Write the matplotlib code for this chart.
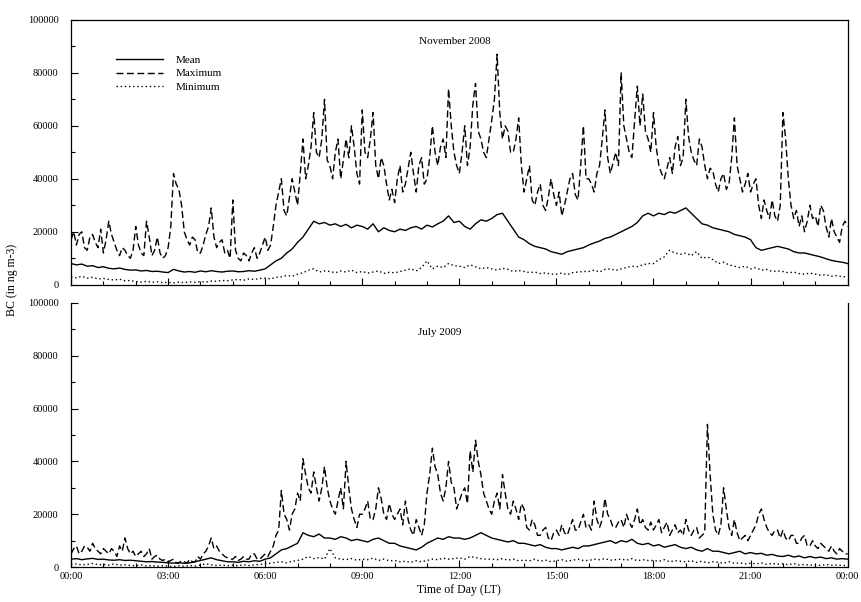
import numpy as np
import matplotlib
matplotlib.use("Agg")
import matplotlib.pyplot as plt
from matplotlib.ticker import MultipleLocator, FixedLocator

plt.rcParams['font.family'] = ['Liberation Serif', 'DejaVu Serif']

# maximum: 5-minute values, 00:00 .. 24:00 (289 points), BC in ng m-3
nov_max = [17000, 20000, 15000, 19000, 20000, 14000, 13000, 18000, 19000, 16000, 14000, 21000,
           12000, 17000, 24000, 19000, 16000, 13000, 11000, 14000, 13000, 11000, 10000, 13000,
           22000, 15000, 12000, 11000, 24000, 18000, 11000, 13000, 18000, 12000, 10000, 11000,
           14000, 22000, 42000, 38000, 36000, 30000, 20000, 17000, 15000, 18000, 17000, 12000,
           12000, 15000, 19000, 22000, 29000, 18000, 14000, 16000, 17000, 12000, 13000, 10000,
           32000, 13000, 10000, 9000, 12000, 11000, 9000, 12000, 14000, 10000, 12000, 15000,
           18000, 13000, 15000, 22000, 30000, 35000, 40000, 28000, 26000, 33000, 40000, 35000,
           30000, 42000, 55000, 40000, 45000, 52000, 65000, 50000, 48000, 55000, 70000, 47000,
           45000, 40000, 50000, 55000, 40000, 47000, 55000, 48000, 60000, 52000, 42000, 38000,
           66000, 50000, 48000, 55000, 65000, 45000, 40000, 48000, 45000, 38000, 32000, 36000,
           31000, 40000, 45000, 35000, 38000, 44000, 50000, 42000, 35000, 45000, 48000, 38000,
           40000, 48000, 60000, 50000, 45000, 52000, 55000, 48000, 74000, 60000, 50000, 45000,
           42000, 50000, 60000, 45000, 52000, 68000, 76000, 58000, 55000, 50000, 48000, 55000,
           62000, 70000, 87000, 65000, 55000, 60000, 58000, 50000, 50000, 55000, 63000, 45000,
           35000, 40000, 45000, 32000, 30000, 35000, 38000, 30000, 28000, 33000, 40000, 34000,
           30000, 35000, 26000, 30000, 35000, 40000, 42000, 34000, 32000, 45000, 60000, 40000,
           40000, 38000, 35000, 42000, 45000, 55000, 66000, 48000, 42000, 46000, 50000, 45000,
           80000, 60000, 55000, 50000, 48000, 62000, 75000, 60000, 72000, 58000, 55000, 50000,
           65000, 52000, 45000, 42000, 40000, 44000, 48000, 42000, 52000, 56000, 45000, 48000,
           70000, 56000, 50000, 47000, 45000, 55000, 52000, 45000, 40000, 44000, 43000, 38000,
           35000, 40000, 42000, 36000, 38000, 48000, 63000, 45000, 40000, 35000, 38000, 42000,
           35000, 38000, 40000, 30000, 25000, 32000, 28000, 25000, 32000, 26000, 24000, 30000,
           65000, 55000, 40000, 30000, 25000, 28000, 22000, 26000, 20000, 24000, 30000, 25000,
           26000, 22000, 30000, 28000, 22000, 18000, 25000, 20000, 18000, 16000, 22000, 24000,
           22000]

jul_max = [5000, 7000, 8000, 5000, 6000, 8000, 7500, 6000, 9000, 7000, 6000, 5000,
           7000, 6000, 5000, 7000, 6000, 4000, 8000, 6000, 11000, 7000, 5000, 6000,
           4000, 5000, 6000, 4000, 5000, 7000, 3000, 4000, 4500, 3000, 2500, 3000,
           2000, 2500, 3000, 1500, 1500, 2500, 2000, 1500, 3000, 2000, 2000, 4000,
           3000, 5000, 6000, 8000, 11000, 7000, 8000, 6000, 5000, 4000, 3500, 3000,
           3000, 4000, 2500, 3000, 4000, 3000, 3000, 5000, 5000, 3000, 3000, 4000,
           5000, 4000, 6000, 8000, 12000, 14000, 29000, 20000, 18000, 14000, 20000, 22000,
           28000, 25000, 41000, 35000, 30000, 28000, 36000, 30000, 25000, 30000, 38000, 30000,
           25000, 22000, 20000, 25000, 30000, 22000, 40000, 30000, 22000, 18000, 15000, 20000,
           20000, 22000, 25000, 18000, 18000, 22000, 30000, 26000, 20000, 18000, 24000, 20000,
           18000, 20000, 22000, 16000, 25000, 18000, 14000, 12000, 18000, 15000, 12000, 16000,
           28000, 35000, 45000, 38000, 35000, 28000, 25000, 30000, 40000, 32000, 30000, 22000,
           25000, 28000, 30000, 24000, 44000, 36000, 48000, 40000, 35000, 28000, 25000, 22000,
           20000, 25000, 28000, 22000, 35000, 28000, 22000, 20000, 25000, 22000, 18000, 24000,
           22000, 15000, 14000, 18000, 16000, 12000, 12000, 14000, 15000, 11000, 10000, 13000,
           14000, 12000, 16000, 13000, 12000, 15000, 18000, 14000, 14000, 17000, 20000, 15000,
           16000, 14000, 25000, 18000, 15000, 18000, 26000, 20000, 18000, 15000, 15000, 17000,
           18000, 15000, 20000, 17000, 15000, 18000, 22000, 16000, 18000, 15000, 14000, 17000,
           14000, 16000, 18000, 13000, 15000, 17000, 12000, 14000, 16000, 13000, 14000, 12000,
           18000, 14000, 12000, 14000, 15000, 11000, 12000, 13000, 54000, 35000, 20000, 14000,
           12000, 16000, 30000, 22000, 15000, 12000, 18000, 13000, 10000, 11000, 12000, 10000,
           12000, 14000, 16000, 20000, 22000, 18000, 15000, 13000, 12000, 14000, 14000, 11000,
           14000, 11000, 10000, 12000, 12000, 9000, 9000, 11000, 12000, 8000, 8000, 10000,
           8000, 7000, 9000, 8000, 7000, 6000, 8000, 6000, 5000, 7000, 6000, 5000,
           5000]

# mean and minimum: 10-minute values, 00:00 .. 24:00 (145 points)
nov_mean = [8000, 7500, 7800, 7000, 7200, 6500,
            6800, 6200, 6000, 6300, 5800, 5500,
            5600, 5200, 5400, 5000, 5100, 4800,
            4600, 5800, 5200, 4800, 5000, 4700,
            5200, 4900, 5300, 5000, 4800, 5100,
            5200, 4900, 5000, 5300, 5100, 5500,
            6000, 7500, 9000, 10000, 12000, 13500,
            16000, 18000, 21000, 24000, 23000, 23500,
            22500, 23000, 22000, 22800, 21500, 22500,
            22000, 21000, 23000, 20000, 21500, 20500,
            20000, 21000, 20500, 21500, 22000, 21000,
            22500, 21800, 23000, 24000, 26000, 23500,
            24000, 22000, 21000, 23000, 24500, 24000,
            25000, 26500, 27000, 24000, 21000, 18000,
            17000, 15500, 14500, 14000, 13500, 12500,
            12000, 11500, 12500, 13000, 13500, 14000,
            15000, 15800, 16500, 17500, 18000, 19000,
            20000, 21000, 22000, 23500, 26000, 27000,
            26000, 27000, 26500, 27500, 27000, 28000,
            29000, 27000, 25000, 23000, 22500, 21500,
            21000, 20500, 20000, 19000, 18500, 18000,
            17000, 14000, 13000, 13500, 14000, 14500,
            14000, 13500, 12500, 12000, 12000, 11500,
            11000, 10500, 9800, 9200, 8800, 8500,
            8000]

nov_min = [3000, 2600, 3200, 2500, 2800, 2200,
           2400, 2000, 1800, 2100, 1500, 1600,
           1200, 1000, 1300, 900, 1100, 800,
           900, 700, 1000, 800, 1100, 900,
           1200, 1000, 1400, 1300, 1600, 1500,
           1800, 2000, 1700, 2200, 2000, 2400,
           2500, 2200, 2800, 3000, 3500, 3200,
           4000, 4500, 5500, 6000, 4800, 5200,
           5000, 4500, 5200, 4800, 5500, 4600,
           5000, 4400, 4800, 5200, 4300, 4700,
           4500, 5000, 5500, 6000, 5200, 6500,
           9000, 6000, 7000, 6500, 8000, 7200,
           7000, 6500, 7500, 6800, 6000, 6500,
           6000, 5500, 6200, 5800, 5000, 5400,
           5000, 4600, 4800, 4200, 4500, 4000,
           4000, 4400, 3800, 4600, 4800, 5000,
           5000, 5500, 4800, 5800, 6000, 5400,
           6000, 6500, 7000, 6800, 7500, 8000,
           8000, 9500, 10500, 13000, 12000, 11500,
           12000, 11000, 12500, 10000, 10500, 9500,
           8000, 8500, 7500, 7000, 6500, 7000,
           6000, 6500, 5500, 5800, 5000, 5200,
           5000, 4500, 4800, 4200, 4000, 4400,
           4000, 3600, 3800, 3200, 3500, 3000,
           3000]

jul_mean = [3000, 3200, 2800, 3100, 3300, 2900,
            3000, 2700, 2600, 2800, 2500, 2600,
            2400, 2200, 2000, 2100, 1900, 1800,
            1600, 1500, 1700, 1400, 1600, 2000,
            2500, 3000, 3500, 2800, 2400, 2000,
            2000, 1800, 2200, 2000, 2400, 2200,
            3000, 3500, 5000, 6500, 7000, 8000,
            9000, 13000, 12000, 11500, 12500, 11000,
            11000, 10500, 11500, 11000, 10000, 10500,
            10000, 9500, 10500, 11000, 10000, 9000,
            9000, 8000, 7500, 7000, 6500, 7500,
            9000, 10000, 11000, 10500, 11500, 11000,
            11000, 10500, 11000, 12000, 13000, 12000,
            11000, 10500, 10000, 9500, 10000, 9000,
            9000, 8500, 8000, 8500, 7500, 7000,
            7000, 6500, 7000, 7500, 7000, 8000,
            8000, 8500, 9000, 9500, 10000, 9000,
            10000, 9500, 10500, 9000, 8500, 9000,
            8000, 8500, 7500, 8000, 8500, 7500,
            7000, 7500, 6500, 6000, 7000, 6000,
            6000, 5500, 5000, 5500, 6000, 5000,
            5500, 5000, 5200, 4500, 4800, 4200,
            4000, 4500, 3800, 4200, 3500, 4000,
            3500, 3800, 3200, 3500, 3000, 3200,
            3000]

jul_min = [1000, 1200, 800, 1000, 1400, 900,
           1000, 800, 1200, 700, 900, 600,
           500, 800, 400, 600, 300, 500,
           400, 200, 500, 300, 600, 400,
           800, 1200, 900, 600, 800, 500,
           700, 500, 900, 600, 800, 1000,
           1200, 1500, 1800, 2000, 1600, 2200,
           2500, 3000, 4000, 3200, 3600, 3000,
           7000, 3500, 3000, 2800, 3200, 2600,
           3000, 2800, 3400, 2500, 3000, 2400,
           2500, 2000, 2200, 1800, 2400, 2000,
           2500, 3000, 2800, 3400, 3000, 3200,
           3500, 3000, 4000, 3600, 3200, 3000,
           3000, 2800, 3200, 2600, 3000, 2400,
           2600, 2400, 3000, 2200, 2600, 2000,
           2400, 2800, 2200, 2600, 3000, 2500,
           2500, 3000, 2800, 3200, 2600, 2800,
           3000, 2600, 3200, 2400, 2800, 2500,
           2500, 2200, 2800, 2000, 2400, 2200,
           2000, 2400, 1800, 2200, 1600, 2000,
           1800, 1500, 2000, 1400, 1600, 1200,
           1500, 1200, 1600, 1000, 1400, 1100,
           1200, 900, 1300, 800, 1000, 700,
           900, 600, 1000, 700, 800, 600,
           600]

hour_labels = ['00:00', '03:00', '06:00', '09:00', '12:00',
               '15:00', '18:00', '21:00', '00:00']

fig = plt.figure(figsize=(8.61, 6.02), dpi=100)
ax1 = fig.add_axes([0.0825, 0.527, 0.902, 0.440])
ax2 = fig.add_axes([0.0825, 0.058, 0.902, 0.439])

def draw(ax, mean, mx, mn, title, tx, ty):
    t_mean = np.linspace(0, 24, len(mean))
    t_max = np.linspace(0, 24, len(mx))
    t_min = np.linspace(0, 24, len(mn))
    ax.plot(t_mean, mean, color='black', lw=1.0, ls='-', label='Mean')
    ax.plot(t_max, mx, color='black', lw=1.0, ls=(0, (5, 2.5)), label='Maximum')
    ax.plot(t_min, mn, color='black', lw=1.0, ls=(0, (1, 2)), label='Minimum')
    ax.set_xlim(0, 24)
    ax.set_ylim(0, 100000)
    ax.yaxis.set_major_locator(MultipleLocator(20000))
    ax.yaxis.set_minor_locator(MultipleLocator(10000))
    ax.xaxis.set_major_locator(FixedLocator(range(0, 25, 3)))
    ax.xaxis.set_minor_locator(MultipleLocator(1))
    ax.tick_params(which='both', direction='in', labelsize=7.5, width=0.8)
    ax.tick_params(which='major', length=5)
    ax.tick_params(which='minor', length=3)
    ax.tick_params(axis='y', which='major', pad=9)
    ax.tick_params(axis='x', which='both', top=False)
    ax.tick_params(axis='y', which='both', right=False)
    ax.text(tx, ty, title, transform=ax.transAxes, ha='center', va='center', fontsize=8)
    for s in ax.spines.values():
        s.set_linewidth(0.9)

draw(ax1, nov_mean, nov_max, nov_min, 'November 2008', 0.494, 0.917)
draw(ax2, jul_mean, jul_max, jul_min, 'July 2009', 0.475, 0.886)

ax1.set_xticklabels([])
ax2.set_xticklabels(hour_labels)
ax2.spines['top'].set_visible(False)

ax1.legend(loc='upper left', bbox_to_anchor=(0.045, 0.905), frameon=False,
           fontsize=8, handlelength=4.2, handletextpad=1.2, labelspacing=0.35)

ax2.set_xlabel('Time of Day (LT)', fontsize=8.5, labelpad=2)
fig.text(0.014, 0.535, 'BC (in ng m-3)', rotation=90, ha='center', va='center', fontsize=8.5)

fig.savefig('out.png', dpi=100)
